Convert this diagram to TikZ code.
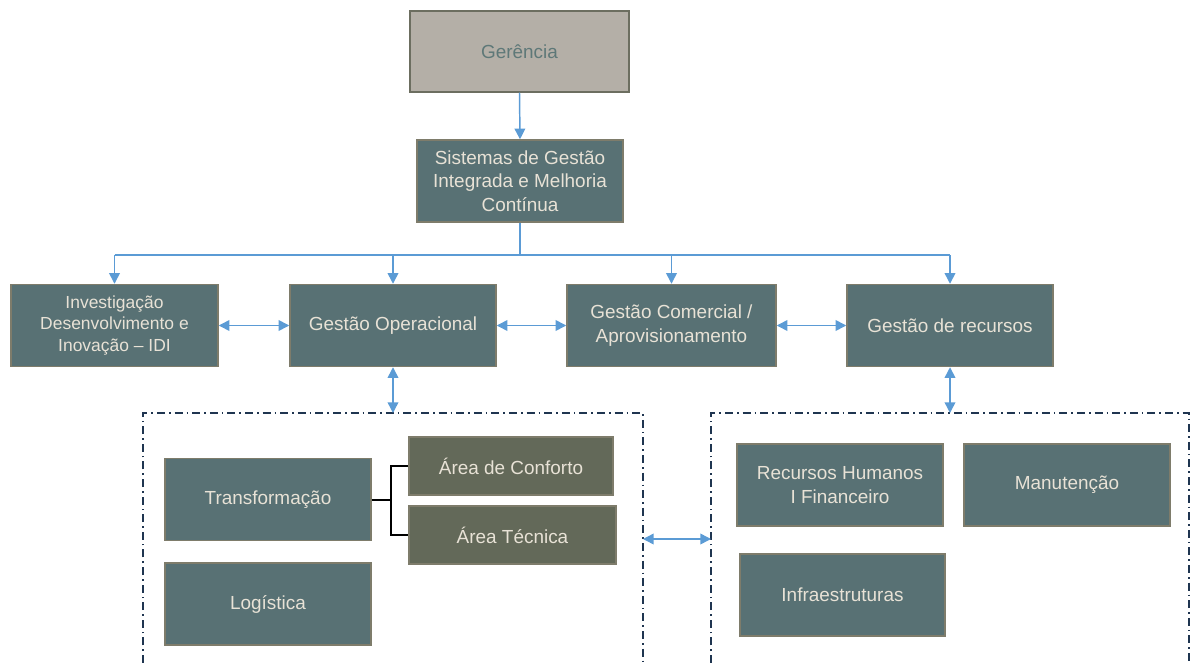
\documentclass[tikz,border=0pt]{standalone}
\usepackage{fontspec}
\setmainfont{Liberation Sans}
\usetikzlibrary{arrows.meta}
\definecolor{teal}{HTML}{587174}
\definecolor{olive}{HTML}{636959}
\definecolor{gerfill}{HTML}{B4AFA7}
\definecolor{gerline}{HTML}{6C6E60}
\definecolor{boxline}{HTML}{7E7C6B}
\definecolor{boxtext}{HTML}{E8E2D6}
\definecolor{gertext}{HTML}{5E7878}
\definecolor{arrowblue}{HTML}{5B9BD5}
\definecolor{navy}{HTML}{1F3550}
\begin{document}
\begin{tikzpicture}[x=0.75pt,y=-0.75pt,
  box/.style={rectangle, draw=boxline, line width=1.1pt, fill=teal, text=boxtext,
    align=center, inner sep=2pt, font=\fontsize{14.2}{17.6}\selectfont,
    minimum width=154.5pt, minimum height=61.5pt},
  subbox/.style={box, fill=olive, minimum height=43.5pt},
  link/.style={draw=arrowblue, line width=1.1pt},
  onearrow/.style={link, -{Triangle[length=8pt,width=8pt]}},
  twoarrow/.style={link, {Triangle[length=8pt,width=8pt]}-{Triangle[length=8pt,width=8pt]}},
  groupline/.style={draw=navy, line width=1.4pt, dash pattern=on 6pt off 3pt on 1.2pt off 3pt},
  bracket/.style={draw=black, line width=1.5pt}]
\useasboundingbox (0,0) rectangle (1192,663);

% top
\node[box, fill=gerfill, draw=gerline, text=gertext, minimum width=164.25pt, minimum height=60.75pt] (ger) at (519.5,51.5) {Gerência};
\node[box] (sgi) at (520,181) {Sistemas de Gestão\\Integrada e Melhoria\\Contínua};

% row
\node[box, minimum width=155.25pt, font=\fontsize{13.1}{15.8}\selectfont] (idi) at (114.5,325.5) {Investigação\\Desenvolvimento e\\Inovação – IDI};
\node[box] (go) at (393,325.5) {Gestão Operacional};
\node[box, minimum width=156.75pt] (gc) at (671.5,325.5) {Gestão Comercial /\\Aprovisionamento};
\node[box] (gr) at (950,325.5) {Gestão de recursos};

% arrows top
\draw[onearrow] (ger.south) -- (sgi.north);
\coordinate (hub) at (520,255);
\coordinate (j1) at (114.5,255);
\coordinate (j2) at (393,255);
\coordinate (j3) at (671.5,255);
\coordinate (j4) at (950,255);
\draw[link] (sgi.south) -- (hub);
\draw[link] (j1) -- (j4);
\draw[onearrow] (j1) -- (idi.north);
\draw[onearrow] (j2) -- (go.north);
\draw[onearrow] (j3) -- (gc.north);
\draw[onearrow] (j4) -- (gr.north);

\draw[twoarrow] (idi.east) -- (go.west);
\draw[twoarrow] (go.east) -- (gc.west);
\draw[twoarrow] (gc.east) -- (gr.west);

% group frames
\coordinate (lbl) at (143,663);
\coordinate (ltl) at (143,413);
\coordinate (ltr) at (643,413);
\coordinate (lbr) at (643,663);
\coordinate (lt) at (393,413);
\coordinate (rbl) at (711,663);
\coordinate (rtl) at (711,413);
\coordinate (rtr) at (1189,413);
\coordinate (rbr) at (1189,663);
\coordinate (rt) at (950,413);
\coordinate (lmid) at (643,539);
\coordinate (rmid) at (711,539);
\draw[groupline] (lbl) -- (ltl) -- (ltr) -- (lbr);
\draw[groupline] (rbl) -- (rtl) -- (rtr) -- (rbr);

\draw[twoarrow] (go.south) -- (lt);
\draw[twoarrow] (gr.south) -- (rt);
\draw[twoarrow] (lmid) -- (rmid);

% left group
\node[box] (tr) at (268,499.5) {Transformação};
\node[subbox, minimum width=153pt] (ac) at (511,466) {Área de Conforto};
\node[subbox, minimum width=155.25pt] (at) at (512.5,535) {Área Técnica};
\node[box] (lg) at (268,604) {Logística};
\draw[bracket] (tr.east) -- ++(19,0) coordinate (br);
\draw[bracket] (ac.west) -| (br) |- (at.west);

% right group
\node[box] (rh) at (840,485) {Recursos Humanos\\I Financeiro};
\node[box] (mn) at (1067,485) {Manutenção};
\node[box, minimum width=153.75pt] (inf) at (842.5,595) {Infraestruturas};
\end{tikzpicture}
\end{document}
